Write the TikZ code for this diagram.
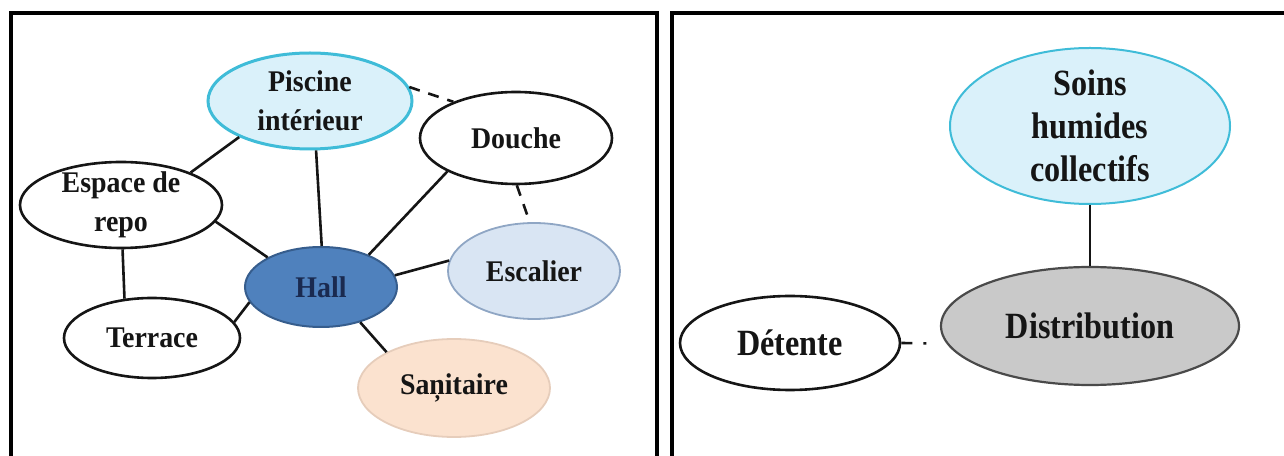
\documentclass[tikz,border=0pt]{standalone}
\usepackage{fontspec}
\usetikzlibrary{shapes.geometric}
\newfontfamily\leftfam{Liberation Serif}[FakeStretch=0.93]
\newfontfamily\rightfam{Liberation Serif}[FakeStretch=0.87]

\definecolor{inkc}{HTML}{151515}
\definecolor{poolfill}{HTML}{DAF1FA}
\definecolor{poolline}{HTML}{3FBCD8}
\definecolor{stairfill}{HTML}{D9E5F3}
\definecolor{stairline}{HTML}{8FA6C4}
\definecolor{hallfill}{HTML}{4F81BD}
\definecolor{hallline}{HTML}{365D8D}
\definecolor{hallink}{HTML}{1A2A50}
\definecolor{sanfill}{HTML}{FBE2CF}
\definecolor{sanline}{HTML}{E6CDBB}
\definecolor{distfill}{HTML}{C9C9C9}
\definecolor{distline}{HTML}{4A4A4A}

\tikzset{
  bubble/.style={ellipse, draw=inkc, line width=2.6bp, fill=white, inner sep=0pt},
  lbl/.style={font=\leftfam\bfseries\fontsize{30bp}{39bp}\selectfont,
              align=center, text=inkc, inner sep=0pt},
  biglbl/.style={font=\rightfam\bfseries\fontsize{37bp}{43bp}\selectfont,
              align=center, text=inkc, inner sep=0pt},
  link/.style={line width=2.6bp, draw=inkc},
  dlink/.style={link, dash pattern=on 11bp off 9bp},
  frame/.style={line width=4bp, draw=black}
}

\begin{document}
\begin{tikzpicture}[x=1bp, y=-1bp]
\useasboundingbox (0,0) rectangle (1284,456);

% panel frames (open at the bottom and on the far right)
\draw[frame] (10.5,470) -- (10.5,13) -- (657,13) -- (657,470);
\draw[frame] (672,470) -- (672,13) -- (1300,13);

% ---------- left panel: wet area around the hall ----------
\node[bubble, fill=poolfill, draw=poolline, line width=3bp, minimum width=204bp, minimum height=96bp] (pis) at (310,101) {};
\node[lbl] (pis-t) at (pis) {Piscine\\intérieur};

\node[bubble, minimum width=192bp, minimum height=92bp] (dou) at (516,138) {};
\node[lbl] (dou-t) at (dou) {Douche};

\node[bubble, minimum width=202bp, minimum height=86bp] (esp) at (121,205) {};
\node[lbl] (esp-t) at (esp) {Espace de\\repo};

\node[bubble, fill=stairfill, draw=stairline, line width=1.8bp, minimum width=172bp, minimum height=96bp] (esc) at (534,271) {};
\node[lbl] (esc-t) at (esc) {Escalier};

\node[bubble, fill=hallfill, draw=hallline, line width=2bp, minimum width=152bp, minimum height=80bp] (hall) at (321,287) {};
\node[lbl, text=hallink] (hall-t) at (hall) {Hall};

\node[bubble, minimum width=176bp, minimum height=80bp] (ter) at (152,338) {};
\node[lbl] (ter-t) at (ter) {Terrace};

\node[bubble, fill=sanfill, draw=sanline, line width=1.8bp, minimum width=192bp, minimum height=98bp] (san) at (454,388) {};
\node[lbl] (san-t) at (san) {Saņitaire};

\draw[link] (pis.207) -- (esp.25);
\draw[link] (pis.-83) -- (hall.89);
\draw[dlink] (pis.8) -- (dou.150);
\draw[link] (esp.-10) -- (hall.151);
\draw[link] (esp.-88) -- (ter.125);
\draw[link] (ter.11) -- (hall.192);
\draw[link] (hall.34) -- (dou.206);
\draw[dlink] (dou.-89) -- (esc.95);
\draw[link] (hall.9) -- (esc.173);
\draw[link] (hall.-42) -- (san.152);

% ---------- right panel: collective wet care ----------
\node[bubble, fill=poolfill, draw=poolline, line width=2bp, minimum width=280bp, minimum height=156bp] (soins) at (1090,126) {};
\node[biglbl] (soins-t) at (soins) {Soins\\humides\\collectifs};

\node[bubble, fill=distfill, draw=distline, line width=2.2bp, minimum width=298bp, minimum height=118bp] (dist) at (1090,326) {};
\node[biglbl] (dist-t) at (dist) {Distribution};

\node[bubble, minimum width=220bp, minimum height=94bp] (det) at (790,343) {};
\node[biglbl] (det-t) at (det) {Détente};

\draw[link] (soins.south) -- (dist.north);
\draw[link, dash pattern=on 11bp off 11bp on 3bp off 30bp] (det.east) -- (dist.187);
\end{tikzpicture}
\end{document}
